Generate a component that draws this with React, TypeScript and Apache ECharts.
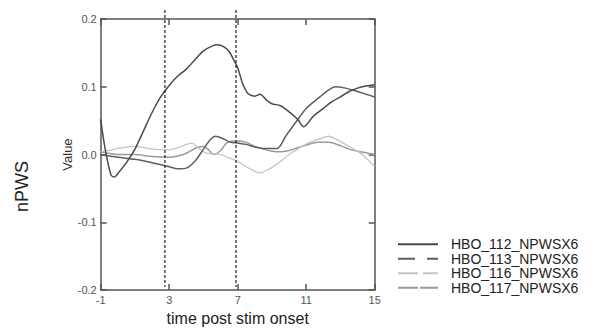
import React, { useEffect, useRef } from "react";
import * as echarts from "echarts";

const seriesNames = ["HBO_112_NPWSX6", "HBO_113_NPWSX6", "HBO_116_NPWSX6", "HBO_117_NPWSX6"];

const hbo112: [number, number][] = [
  [-1, 0.052], [-0.75, 0.01], [-0.4, -0.03], [-0.2, -0.033], [0, -0.028], [0.5, -0.012], [1, 0.008],
  [1.5, 0.035], [2, 0.062], [2.5, 0.085], [3, 0.102], [3.5, 0.116], [4, 0.126], [4.5, 0.14],
  [5, 0.153], [5.5, 0.16], [5.8, 0.162], [6.2, 0.159], [6.5, 0.152], [6.8, 0.138], [7, 0.128],
  [7.3, 0.104], [7.6, 0.09], [8, 0.086], [8.3, 0.089], [8.7, 0.08], [9, 0.075], [9.5, 0.072],
  [10, 0.063], [10.5, 0.052], [10.85, 0.041], [11.4, 0.056], [12, 0.068], [12.5, 0.078],
  [13, 0.085], [13.5, 0.093], [14, 0.098], [14.5, 0.101], [15, 0.103],
];

const hbo113: [number, number][] = [
  [-1, 0.0], [0, -0.004], [1, -0.007], [2, -0.012], [3, -0.018], [3.5, -0.021], [4, -0.02],
  [4.5, -0.01], [5, 0.008], [5.4, 0.022], [5.7, 0.027], [6.1, 0.024], [6.6, 0.018], [7, 0.017],
  [7.5, 0.015], [8, 0.011], [8.5, 0.009], [9.3, 0.009], [9.8, 0.027], [10.4, 0.048], [11, 0.068],
  [11.8, 0.085], [12.3, 0.095], [12.7, 0.1], [13.3, 0.098], [14, 0.093], [14.5, 0.089], [15, 0.085],
];

const hbo116: [number, number][] = [
  [-1, 0.004], [-0.5, 0.006], [0, 0.009], [1, 0.012], [2, 0.008], [3, 0.007], [3.5, 0.01],
  [4.3, 0.017], [4.8, 0.008], [5.2, 0.002], [6, 0.0], [6.5, -0.005], [7, -0.01], [7.5, -0.018],
  [8.3, -0.027], [8.8, -0.022], [9.4, -0.012], [10, 0.0], [10.5, 0.008], [11.2, 0.018],
  [11.8, 0.023], [12.3, 0.027], [12.8, 0.022], [13.5, 0.012], [14, 0.005], [14.5, -0.005], [15, -0.018],
];

const hbo117: [number, number][] = [
  [-1, 0.004], [0, 0.0], [1, 0.0], [2, -0.003], [3, -0.004], [3.5, -0.002], [4, 0.002],
  [4.6, 0.01], [5, 0.012], [5.3, 0.007], [5.6, 0.0], [6, 0.006], [6.4, 0.018], [7, 0.02],
  [7.5, 0.018], [8, 0.012], [8.5, 0.008], [9, 0.005], [9.5, 0.004], [10, 0.006], [10.5, 0.01],
  [11, 0.014], [11.7, 0.018], [12.3, 0.018], [13, 0.013], [13.5, 0.008], [14, 0.005], [14.6, 0.002], [15, 0.0],
];

const stimMarks = [2.75, 6.9];

const colors = ["#4a4a4a", "#5e5e5e", "#c4c4c4", "#9a9a9a"];
const widths = [1.5, 1.5, 1.3, 1.5];
const legendIcons = [
  "path://M0,0h40v2h-40z",
  "path://M0,0h17v2h-17z M29,0h11v2h-11z",
  "path://M0,0h20v2h-20z M25,0h15v2h-15z",
  "path://M0,0h20v2h-20z M22,0h18v2h-18z",
];

const FONT = "Liberation Sans, Arial, sans-serif";

export default function App() {
  const ref = useRef<HTMLDivElement>(null);
  useEffect(() => {
    if (!ref.current) return;
    const chart = echarts.init(ref.current, undefined, { renderer: "svg" });
    const datasets = [hbo112, hbo113, hbo116, hbo117];
    const axisLine = { show: true, onZero: false, lineStyle: { color: "#555", width: 1.5 } };
    const tick = { show: true, inside: true, length: 6, lineStyle: { color: "#555", width: 1.5 } };
    const nPWS = {
      type: "text", left: 13, top: 161, rotation: Math.PI / 2,
      style: { text: "nPWS", fontSize: 18, fill: "#222", fontFamily: FONT },
    };
    chart.setOption({
      animation: false,
      backgroundColor: "#fff",
      textStyle: { fontFamily: FONT },
      grid: { left: 100.7, right: 229.3, top: 19, bottom: 37 },
      xAxis: [
        {
          type: "value", min: -1, max: 15, interval: 4, position: "bottom",
          axisLine, axisTick: tick, splitLine: { show: false },
          axisLabel: { color: "#555", fontSize: 11, margin: 4, fontFamily: FONT },
          name: "time post stim onset", nameLocation: "middle", nameGap: 17,
          nameTextStyle: { color: "#222", fontSize: 16, fontFamily: FONT },
        },
        {
          type: "value", min: -1, max: 15, interval: 4, position: "top",
          axisLine, axisTick: tick, splitLine: { show: false }, axisLabel: { show: false },
        },
      ],
      yAxis: [
        {
          type: "value", min: -0.2, max: 0.2, interval: 0.1, position: "left",
          axisLine, axisTick: tick, splitLine: { show: false },
          axisLabel: { color: "#555", fontSize: 11, margin: 4, fontFamily: FONT, formatter: (v: number) => v.toFixed(1) },
          name: "Value", nameLocation: "middle", nameGap: 21,
          nameTextStyle: { color: "#333", fontSize: 13, fontFamily: FONT },
        },
        {
          type: "value", min: -0.2, max: 0.2, interval: 0.1, position: "right",
          axisLine, axisTick: tick, splitLine: { show: false }, axisLabel: { show: false },
        },
      ],
      legend: {
        orient: "vertical", left: 393, top: 232, itemWidth: 40, itemHeight: 2, itemGap: 0.2,
        selectedMode: false,
        textStyle: { color: "#222", fontSize: 14, lineHeight: 14.3, fontFamily: FONT, padding: [0, 0, 0, 8] },
        data: seriesNames.map((n, i) => ({ name: n, icon: legendIcons[i] })),
      },
      graphic: [nPWS],
      series: seriesNames.map((n, i) => ({
        name: n, type: "line", data: datasets[i], smooth: 0.3, showSymbol: false, symbol: "none",
        lineStyle: { color: colors[i], width: widths[i] },
        itemStyle: { color: colors[i] },
        z: 4 - i,
      })),
    });
    const yTop = (chart.convertToPixel({ yAxisIndex: 0 }, 0.2) as number) - 9;
    const yBot = (chart.convertToPixel({ yAxisIndex: 0 }, -0.2) as number) - 3;
    const stimLines = stimMarks.map((t) => {
      const x = chart.convertToPixel({ xAxisIndex: 0 }, t) as number;
      return {
        type: "line", z: 10,
        shape: { x1: x, y1: yTop, x2: x, y2: yBot },
        style: { stroke: "#222", lineWidth: 1.2, lineDash: [3, 2] },
      };
    });
    chart.setOption({ graphic: [nPWS, ...stimLines] }, { replaceMerge: ["graphic"] });
    return () => chart.dispose();
  }, []);
  return <div ref={ref} style={{ position: "absolute", left: 0, top: 0, width: 604, height: 331 }} />;
}
